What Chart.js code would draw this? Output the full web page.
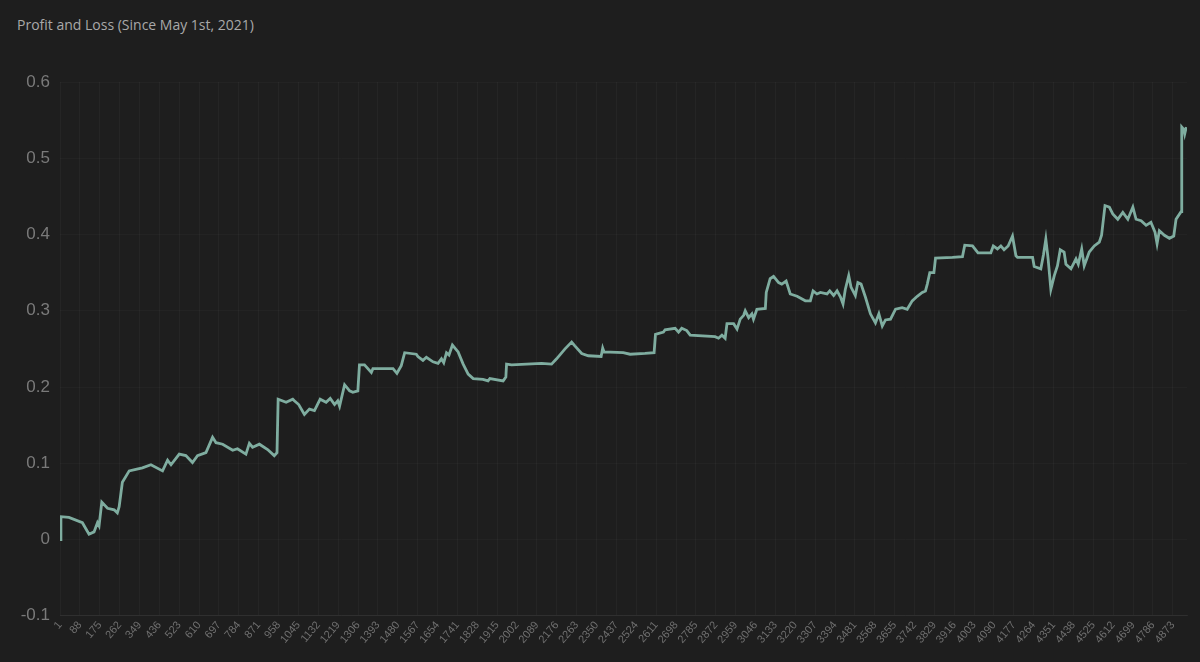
<!DOCTYPE html>
<html>
<head>
<meta charset="utf-8">
<script src="https://cdn.jsdelivr.net/npm/chart.js@4/dist/chart.umd.min.js"></script>
<style>
    html, body { margin: 0; padding: 0; background: #1e1e1e; }
    #wrap { position: relative; width: 1200px; height: 662px; }
    #title {
        position: absolute; left: 17px; top: 15px;
        font-family: "Open Sans", "Noto Sans", sans-serif;
        font-size: 14px; color: #a9a9a9;
    }
    canvas { position: absolute; left: 0; top: 0; }
</style>
</head>
<body>
<div id="wrap">
    <div id="title">Profit and Loss (Since May 1st, 2021)</div>
    <canvas id="pnlChart" width="1200" height="662"></canvas>
</div>
<script>
// trade index of each read-off point
const pnlIndex = [
    1, 5, 40, 99, 128, 150, 165, 172, 184, 209, 238, 252, 260, 274, 304, 333, 362, 399,
    450, 472, 487, 523, 552, 581, 603, 640, 669, 684, 713, 757, 778, 815, 830, 844, 874,
    910, 939, 951, 956, 991, 1020, 1027, 1046, 1071, 1093, 1115, 1140, 1166, 1184, 1203,
    1217, 1225, 1247, 1269, 1283, 1305, 1312, 1334, 1364, 1371, 1459, 1476, 1495, 1510,
    1561, 1568, 1590, 1605, 1634, 1656, 1671, 1681, 1693, 1704, 1719, 1744, 1766, 1788,
    1810, 1853, 1875, 1883, 1941, 1953, 1956, 1978, 2109, 2153, 2175, 2212, 2241, 2255,
    2285, 2314, 2370, 2377, 2383, 2467, 2497, 2562, 2602, 2608, 2643, 2650, 2694, 2709,
    2723, 2745, 2760, 2869, 2884, 2899, 2913, 2921, 2950, 2965, 2979, 2994, 3001, 3016,
    3030, 3037, 3052, 3089, 3093, 3110, 3125, 3147, 3161, 3180, 3198, 3228, 3264, 3286,
    3298, 3315, 3330, 3359, 3371, 3388, 3403, 3418, 3429, 3439, 3454, 3464, 3483, 3494,
    3508, 3527, 3549, 3571, 3586, 3601, 3615, 3637, 3659, 3688, 3710, 3732, 3754, 3776,
    3790, 3798, 3809, 3827, 3834, 3908, 3952, 3962, 3996, 4020, 4076, 4087, 4105, 4120,
    4134, 4152, 4171, 4186, 4193, 4259, 4266, 4295, 4307, 4317, 4327, 4339, 4354, 4368,
    4380, 4397, 4405, 4427, 4449, 4459, 4474, 4485, 4507, 4529, 4551, 4561, 4576, 4595,
    4610, 4632, 4654, 4676, 4698, 4712, 4734, 4756, 4777, 4795, 4804, 4814, 4836, 4858,
    4877, 4887, 4909, 4912, 4921, 4925, 4932
];

// cumulative profit and loss at those points
const pnlValue = [
    0.000, 0.030, 0.029, 0.022, 0.007, 0.010, 0.022, 0.018, 0.049, 0.041, 0.039, 0.035, 0.043, 0.075, 0.090, 0.092, 0.094, 0.098,
    0.090, 0.104, 0.098, 0.112, 0.110, 0.101, 0.110, 0.114, 0.134, 0.127, 0.125, 0.117, 0.119, 0.112, 0.126, 0.121, 0.125,
    0.118, 0.110, 0.114, 0.184, 0.180, 0.184, 0.182, 0.177, 0.164, 0.171, 0.169, 0.184, 0.180, 0.185, 0.177,
    0.182, 0.175, 0.203, 0.195, 0.193, 0.195, 0.229, 0.229, 0.219, 0.224, 0.224, 0.218, 0.228, 0.245,
    0.243, 0.240, 0.235, 0.239, 0.233, 0.231, 0.237, 0.232, 0.245, 0.242, 0.255, 0.246, 0.230, 0.217,
    0.211, 0.210, 0.208, 0.211, 0.208, 0.213, 0.230, 0.229, 0.231, 0.230, 0.237, 0.250, 0.259, 0.254,
    0.244, 0.241, 0.240, 0.251, 0.246, 0.245, 0.243, 0.244, 0.245, 0.269, 0.272, 0.275, 0.277, 0.272,
    0.277, 0.274, 0.268, 0.266, 0.264, 0.268, 0.264, 0.283, 0.283, 0.276, 0.289, 0.294, 0.300, 0.291,
    0.296, 0.289, 0.302, 0.303, 0.324, 0.342, 0.345, 0.337, 0.335, 0.339, 0.322, 0.319, 0.313, 0.313,
    0.326, 0.322, 0.324, 0.322, 0.326, 0.320, 0.326, 0.318, 0.309, 0.328, 0.346, 0.331, 0.320, 0.337,
    0.335, 0.318, 0.296, 0.284, 0.296, 0.280, 0.288, 0.289, 0.302, 0.304, 0.302, 0.313, 0.319, 0.324,
    0.326, 0.335, 0.350, 0.350, 0.369, 0.370, 0.371, 0.386, 0.385, 0.376, 0.376, 0.385, 0.381, 0.385,
    0.380, 0.385, 0.398, 0.372, 0.370, 0.370, 0.358, 0.355, 0.374, 0.394, 0.368, 0.328, 0.346, 0.359,
    0.380, 0.377, 0.361, 0.355, 0.368, 0.361, 0.381, 0.359, 0.377, 0.385, 0.390, 0.399, 0.438, 0.436,
    0.427, 0.420, 0.429, 0.420, 0.436, 0.420, 0.418, 0.412, 0.416, 0.403, 0.388, 0.405, 0.399, 0.395,
    0.398, 0.420, 0.430, 0.541, 0.538, 0.532, 0.541
];

// x axis labels shown every 87 trades
const xTickStart = 1;
const xTickStep = 87;
const xTickEnd = 4873;
const xMax = 4935;

const yTicks = [-0.1, 0, 0.1, 0.2, 0.3, 0.4, 0.5, 0.6];

const points = pnlIndex.map((x, i) => ({ x: x, y: pnlValue[i] }));

new Chart(document.getElementById("pnlChart"), {
    type: "line",
    data: {
        datasets: [
            {
                label: "PnL",
                data: points,
                borderColor: "#7fada0",
                borderWidth: 2.8,
                pointRadius: 0,
                tension: 0,
                fill: false,
            },
        ],
    },
    options: {
        responsive: false,
        animation: false,
        layout: { padding: { top: 82, right: 13, bottom: 13, left: 0 } },
        scales: {
            x: {
                type: "linear",
                min: xTickStart,
                max: xMax,
                afterBuildTicks: (axis) => {
                    const t = [];
                    for (let v = xTickStart; v <= xTickEnd; v += xTickStep) t.push({ value: v });
                    axis.ticks = t;
                },
                ticks: {
                    color: "#6f6f6f",
                    font: { family: "Liberation Sans, Arial, sans-serif", size: 11 },
                    minRotation: 50,
                    maxRotation: 50,
                    autoSkip: false,
                    callback: (v) => String(v),
                },
                grid: { color: "rgba(255,255,255,0.035)", drawTicks: false },
                border: { color: "rgba(255,255,255,0.06)" },
            },
            y: {
                min: -0.1,
                max: 0.6,
                afterBuildTicks: (axis) => {
                    axis.ticks = yTicks.map((v) => ({ value: v }));
                },
                afterFit: (axis) => { axis.width = 60; },
                ticks: {
                    color: "#7a7a7a",
                    padding: 10,
                    font: { family: "Liberation Sans, Arial, sans-serif", size: 17 },
                    callback: (v) => String(Math.round(v * 10) / 10),
                },
                grid: { color: "rgba(255,255,255,0.025)", drawTicks: false },
                border: { display: false },
            },
        },
        plugins: {
            legend: { display: false },
            tooltip: { enabled: false },
        },
    },
});
</script>
</body>
</html>
